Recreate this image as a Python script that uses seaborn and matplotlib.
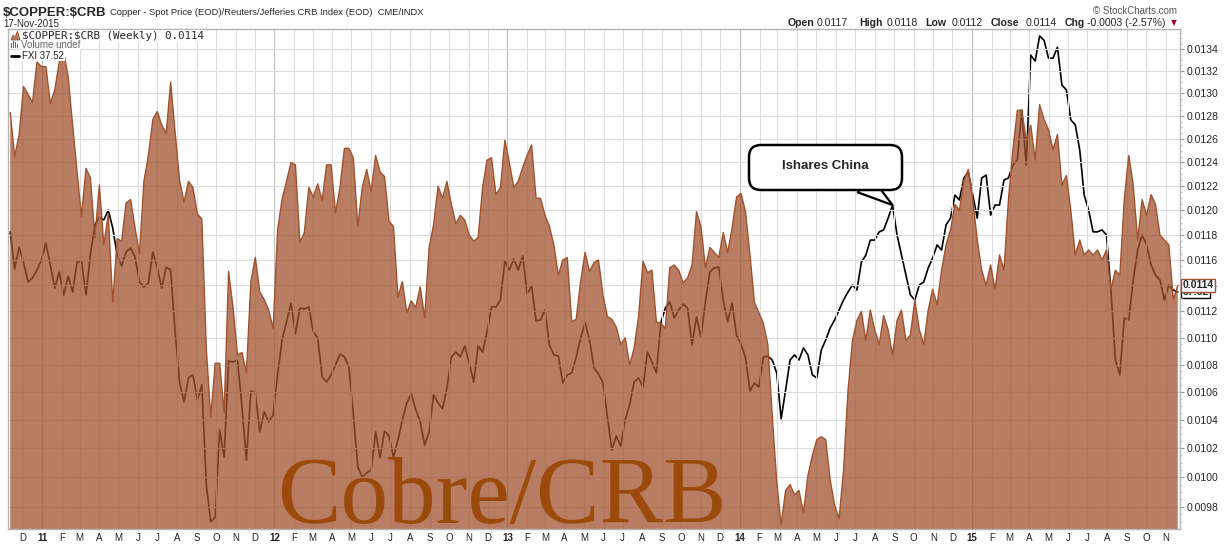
import matplotlib
matplotlib.use("Agg")
import matplotlib.pyplot as plt
import matplotlib.ticker as mticker
import matplotlib.transforms as mtransforms
import matplotlib.dates as mdates
from matplotlib.patches import Polygon, FancyBboxPatch, Rectangle
from matplotlib.lines import Line2D
import numpy as np
import pandas as pd
import seaborn as sns

sns.set_style("white")
plt.rcParams["font.family"] = ["Liberation Sans", "DejaVu Sans"]

# ---------------- data (weekly) ----------------
FIRST_WEEK = "2010-11-12"
COPPER_CRB = [
    0.01283, 0.01245, 0.01264, 0.01306, 0.01299, 0.01292, 0.01328, 0.01324, 0.01324, 0.01291,
    0.01303, 0.01328, 0.01337, 0.01315, 0.01272, 0.01232, 0.01195, 0.01235, 0.01227, 0.01178,
    0.01221, 0.01172, 0.01197, 0.01127, 0.01177, 0.01175, 0.01206, 0.01209, 0.01186, 0.01165,
    0.01224, 0.01246, 0.01277, 0.01284, 0.01272, 0.01265, 0.01310, 0.01266, 0.01225, 0.01207,
    0.01224, 0.01219, 0.01197, 0.01193, 0.01092, 0.01042, 0.01081, 0.01081, 0.01045, 0.01151,
    0.01123, 0.01087, 0.01089, 0.01074, 0.01143, 0.01162, 0.01135, 0.01129, 0.01121, 0.01107,
    0.01184, 0.01209, 0.01224, 0.01240, 0.01238, 0.01174, 0.01182, 0.01219, 0.01211, 0.01222,
    0.01208, 0.01238, 0.01238, 0.01198, 0.01219, 0.01252, 0.01252, 0.01244, 0.01187, 0.01219,
    0.01234, 0.01216, 0.01246, 0.01232, 0.01228, 0.01191, 0.01187, 0.01131, 0.01143, 0.01119,
    0.01128, 0.01123, 0.01139, 0.01115, 0.01170, 0.01188, 0.01220, 0.01210, 0.01224, 0.01205,
    0.01189, 0.01196, 0.01192, 0.01180, 0.01175, 0.01178, 0.01219, 0.01242, 0.01244, 0.01213,
    0.01219, 0.01259, 0.01240, 0.01219, 0.01224, 0.01236, 0.01246, 0.01255, 0.01210, 0.01210,
    0.01196, 0.01187, 0.01172, 0.01148, 0.01160, 0.01162, 0.01112, 0.01114, 0.01143, 0.01166,
    0.01151, 0.01158, 0.01160, 0.01133, 0.01116, 0.01114, 0.01108, 0.01095, 0.01100, 0.01080,
    0.01092, 0.01116, 0.01159, 0.01150, 0.01152, 0.01112, 0.01111, 0.01107, 0.01154, 0.01156,
    0.01152, 0.01142, 0.01146, 0.01156, 0.01199, 0.01187, 0.01154, 0.01170, 0.01166, 0.01162,
    0.01182, 0.01166, 0.01186, 0.01211, 0.01214, 0.01199, 0.01164, 0.01127, 0.01119, 0.01111,
    0.01095, 0.01043, 0.00997, 0.00968, 0.00991, 0.00995, 0.00988, 0.00991, 0.00976, 0.01001,
    0.01015, 0.01026, 0.01028, 0.01026, 0.00998, 0.00981, 0.00972, 0.01005, 0.01061, 0.01098,
    0.01113, 0.01120, 0.01098, 0.01121, 0.01106, 0.01095, 0.01117, 0.01106, 0.01087, 0.01113,
    0.01121, 0.01098, 0.01102, 0.01129, 0.01106, 0.01095, 0.01121, 0.01137, 0.01125, 0.01152,
    0.01172, 0.01184, 0.01205, 0.01200, 0.01225, 0.01234, 0.01209, 0.01176, 0.01152, 0.01140,
    0.01156, 0.01137, 0.01164, 0.01152, 0.01209, 0.01251, 0.01285, 0.01285, 0.01259, 0.01272,
    0.01242, 0.01290, 0.01277, 0.01268, 0.01251, 0.01264, 0.01221, 0.01229, 0.01200, 0.01164,
    0.01176, 0.01164, 0.01168, 0.01164, 0.01168, 0.01160, 0.01168, 0.01137, 0.01152, 0.01148,
    0.01209, 0.01246, 0.01221, 0.01176, 0.01209, 0.01196, 0.01213, 0.01205, 0.01180, 0.01176,
    0.01172, 0.01129, 0.01140,
]
FXI = [
    40.43, 38.61, 39.68, 38.90, 37.99, 38.18, 38.56, 39.04, 39.87, 38.80,
    37.70, 38.46, 37.38, 38.27, 37.52, 38.94, 38.99, 37.38, 39.33, 40.78,
    41.18, 41.03, 41.54, 40.63, 39.28, 38.75, 39.43, 39.63, 39.19, 37.99,
    37.75, 37.94, 39.43, 38.66, 37.70, 38.70, 38.56, 35.70, 33.55, 32.73,
    33.72, 33.85, 32.81, 33.43, 29.52, 28.19, 28.37, 31.61, 30.56, 34.44,
    34.40, 34.46, 32.53, 30.45, 33.18, 33.10, 31.53, 32.33, 31.93, 32.21,
    33.85, 35.35, 36.15, 37.01, 35.61, 36.78, 36.74, 36.83, 35.70, 35.44,
    33.76, 33.55, 33.85, 34.27, 34.74, 34.61, 34.19, 32.21, 30.19, 29.81,
    29.97, 30.08, 31.53, 30.53, 31.57, 31.38, 30.56, 31.22, 32.01, 32.69,
    33.06, 32.41, 31.93, 31.02, 31.53, 33.02, 32.69, 32.45, 33.30, 34.61,
    34.82, 34.61, 35.09, 34.36, 33.55, 35.09, 34.82, 35.70, 36.83, 36.83,
    37.15, 38.99, 38.56, 39.09, 38.56, 39.24, 37.43, 37.80, 36.20, 36.24,
    36.69, 35.13, 34.70, 34.65, 33.51, 33.85, 33.93, 34.61, 35.44, 36.11,
    35.35, 34.14, 33.89, 33.51, 32.13, 30.83, 31.38, 30.98, 32.01, 32.61,
    33.55, 33.72, 33.34, 34.82, 34.40, 33.93, 36.11, 36.78, 37.06, 36.33,
    36.69, 36.96, 36.78, 35.13, 36.38, 35.48, 37.06, 38.46, 38.66, 38.70,
    37.15, 36.15, 37.01, 35.53, 35.18, 34.57, 33.18, 33.51, 33.34, 34.61,
    34.65, 34.48, 33.93, 32.05, 33.22, 34.48, 34.70, 34.48, 35.00, 34.70,
    33.85, 33.72, 34.91, 35.35, 35.88, 36.24, 36.69, 37.15, 37.52, 37.85,
    37.61, 38.94, 39.28, 40.02, 40.02, 40.43, 40.53, 41.13, 41.80, 40.28,
    39.28, 38.32, 37.38, 37.15, 37.85, 37.99, 38.66, 39.14, 39.78, 39.53,
    40.78, 41.13, 42.32, 42.06, 43.23, 43.55, 42.32, 41.13, 43.23, 43.39,
    41.28, 41.80, 41.80, 43.12, 43.23, 43.93, 44.21, 47.04, 43.93, 50.36,
    49.99, 51.57, 51.29, 50.17, 50.17, 50.86, 48.52, 48.23, 46.46, 46.18,
    44.76, 42.32, 41.54, 40.43, 40.43, 40.53, 40.28, 37.61, 34.48, 33.85,
    36.33, 36.24, 38.08, 39.53, 40.28, 39.78, 38.80, 38.32, 38.08, 37.15,
    37.85, 37.61, 37.52,
]
Y_TICKS = [0.0098, 0.0100, 0.0102, 0.0104, 0.0106, 0.0108, 0.0110, 0.0112, 0.0114,
           0.0116, 0.0118, 0.0120, 0.0122, 0.0124, 0.0126, 0.0128, 0.0130, 0.0132, 0.0134]
Y_TICK_LABELS = ["0.0098", "0.0100", "0.0102", "0.0104", "0.0106", "0.0108", "0.0110",
                 "0.0112", "0.0114", "0.0116", "0.0118", "0.0120", "0.0122", "0.0124",
                 "0.0126", "0.0128", "0.0130", "0.0132", "0.0134"]
MONTH_INITIALS = ["J", "F", "M", "A", "M", "J", "J", "A", "S", "O", "N", "D"]
OHLC = [("Open", "0.0117"), ("High", "0.0118"), ("Low", "0.0112"),
        ("Close", "0.0114"), ("Chg", "-0.0003 (-2.57%)")]
CALLOUT_WEEK = 198

dates = pd.date_range(FIRST_WEEK, periods=len(COPPER_CRB), freq="7D")
df = pd.DataFrame({"date": dates, "ratio": COPPER_CRB, "fxi": FXI})

# ---------------- figure ----------------
W, H, DPI = 1224, 545, 100
fig = plt.figure(figsize=(W / DPI, H / DPI), dpi=DPI)
fig.patch.set_facecolor("white")
L, R, T, B = 8, 1180, 29, 529
ax = fig.add_axes([L / W, 1 - B / H, (R - L) / W, (B - T) / H])
ax2 = ax.twinx()
ax.set_zorder(ax2.get_zorder() + 1)
ax.patch.set_visible(False)

ax.set_yscale("log")
ax2.set_yscale("log")

SIENNA = "#A0522D"
sns.lineplot(data=df, x="date", y="fxi", ax=ax2, color="black", lw=1.2)
ax.fill_between(df["date"], df["ratio"], 0.009, color=SIENNA, alpha=0.75, lw=0, zorder=2)
sns.lineplot(data=df, x="date", y="ratio", ax=ax, color=SIENNA, lw=1.0, zorder=3)

ax.set_xlim(pd.Timestamp("2010-11-08 12:00"), pd.Timestamp("2015-11-23 12:00"))
ax.set_ylim(0.009652, 0.013584)
ax2.set_ylim(27.95, 52.02)
for a in (ax, ax2):
    a.set_xlabel("")
    a.set_ylabel("")

# grid
months = pd.date_range("2010-12-01", "2015-11-01", freq="MS")
for m in months:
    ax.axvline(m, color="#bdbdbd" if m.month == 1 else "#dcdcdc", lw=0.8, zorder=1)
for t in Y_TICKS:
    ax.axhline(t, color="#dcdcdc", lw=0.8, zorder=1)

# x ticks
labels = [f"{m.year % 100:02d}" if m.month == 1 else MONTH_INITIALS[m.month - 1] for m in months]
ax.set_xticks(months)
ax.set_xticklabels(labels)
for lbl, m in zip(ax.get_xticklabels(), months):
    lbl.set_color("#222222")
    if m.month == 1:
        lbl.set_fontweight("bold")
        lbl.set_fontsize(8.5)
ax.xaxis.set_minor_locator(mticker.FixedLocator(mdates.date2num(dates)))
ax.xaxis.set_minor_formatter(mticker.NullFormatter())
ax.tick_params(axis="x", which="major", length=0, labelsize=7, pad=3)
ax.tick_params(axis="x", which="minor", length=2, color="#aaaaaa")

# y ticks (right)
ax.yaxis.set_major_locator(mticker.FixedLocator(Y_TICKS))
ax.yaxis.set_major_formatter(mticker.FixedFormatter(Y_TICK_LABELS))
ax.yaxis.set_minor_locator(mticker.MultipleLocator(0.00005))
ax.yaxis.set_minor_formatter(mticker.NullFormatter())
ax.tick_params(axis="y", which="both", left=False, labelleft=False, right=True, labelright=True)
ax.tick_params(axis="y", which="major", length=3, color="#999999", labelsize=7.5, pad=2)
ax.tick_params(axis="y", which="minor", length=1.5, color="#bbbbbb")
ax2.yaxis.set_major_locator(mticker.NullLocator())
ax2.yaxis.set_minor_locator(mticker.NullLocator())
ax2.tick_params(axis="y", which="both", right=False, labelright=False, left=False, labelleft=False)
for s in ax.spines.values():
    s.set_color("#b3b3b3")
    s.set_linewidth(1)
for s in ax2.spines.values():
    s.set_visible(False)

# last-value boxes on the right axis
tr1 = mtransforms.blended_transform_factory(ax.transAxes, ax.transData)
tr2 = mtransforms.blended_transform_factory(ax2.transAxes, ax2.transData)
ax2.text(1.002, FXI[-1], f"{FXI[-1]:.2f}", transform=tr2, fontsize=7.5, fontweight="bold",
         va="center", ha="left", clip_on=False,
         bbox=dict(boxstyle="square,pad=0.12", fc="white", ec="black", lw=1))
ax.text(1.002, COPPER_CRB[-1], f"{COPPER_CRB[-1]:.4f}", transform=tr1, fontsize=7.5,
        fontweight="bold", va="center", ha="left", clip_on=False, zorder=10,
        bbox=dict(boxstyle="square,pad=0.12", fc="white", ec=SIENNA, lw=1))

# ---------------- texts in pixel coordinates ----------------
IN = fig.dpi_scale_trans


def P(x, y):
    return (x / DPI, (H - y) / DPI)


def ftext(x, y, s, **kw):
    return fig.text(*P(x, y), s, transform=IN, **kw)


ftext(3, 15.5, r"\$COPPER:\$CRB", fontsize=9.5, fontweight="bold", va="baseline")
ftext(110, 15, "Copper - Spot Price (EOD)/Reuters/Jefferies CRB Index (EOD)  CME/INDX",
      fontsize=6.75, va="baseline")
ftext(3, 24, "17-Nov-2015", fontsize=7, va="center")
ftext(1177, 10.5, "\u00a9 StockCharts.com", fontsize=7, color="#555555", ha="right", va="center")

ohlc_x = [(788, 817), (859, 887), (925, 952), (991, 1026), (1065, 1087)]
for (lab, val), (xl, xv) in zip(OHLC, ohlc_x):
    ftext(xl, 26.5, lab, fontsize=7.6, fontweight="bold", va="baseline")
    ftext(xv, 26.5, val, fontsize=7.6, va="baseline")
ftext(1174, 23, "\u25bc", fontsize=5.5, color="#a0002a", ha="center", va="center",
      family="DejaVu Sans")

# legend
fig.add_artist(Polygon([P(11, 40), P(13, 35), P(15, 37.5), P(17.5, 31), P(20, 40)],
                       closed=True, transform=IN, fc="#B57C66", ec=SIENNA, lw=0.6, zorder=6))
for bx, bh in [(11, 5), (13, 7), (15, 6), (17, 4)]:
    fig.add_artist(Rectangle(P(bx, 48), 1.4 / DPI, bh / DPI, transform=IN,
                             fc="#666666", ec="none", zorder=6))
fig.add_artist(Line2D([11 / DPI, 19 / DPI], [(H - 55.5) / DPI] * 2, transform=IN,
                      color="black", lw=2, zorder=6))
ftext(22, 35.8, f"\\$COPPER:\\$CRB (Weekly) {COPPER_CRB[-1]:.4f}", fontsize=7.8,
      family="DejaVu Sans Mono", va="center", zorder=7,
      bbox=dict(fc="white", ec="none", pad=0.6))
ftext(21, 44.5, "Volume undef", fontsize=7, color="#666666", va="center", zorder=7,
      bbox=dict(fc="white", ec="none", pad=0.3))
ftext(22, 55.5, f"FXI {FXI[-1]:.2f}", fontsize=7, va="center", zorder=7,
      bbox=dict(fc="white", ec="none", pad=0.5))

# watermark
ftext(502, 523, "Cobre/CRB", family="Liberation Serif", fontsize=68.5, color="#9B4A0B",
      ha="center", va="baseline", zorder=4)

# callout
tip = (mdates.date2num(dates[CALLOUT_WEEK]), FXI[CALLOUT_WEEK])
ax.annotate("", xy=tip, xycoords=ax2.transData, xytext=P(864, 184), textcoords=IN,
            arrowprops=dict(arrowstyle="wedge,tail_width=1.5,shrink_factor=0.5",
                            fc="white", ec="black", lw=1.6, shrinkA=0, shrinkB=0),
            zorder=12)
fig.add_artist(FancyBboxPatch(P(749, 190), 153 / DPI, 45 / DPI,
                              boxstyle="round,pad=0,rounding_size=0.12", transform=IN,
                              fc="white", ec="black", lw=1.8, zorder=5))
ftext(825, 166, "Ishares China", fontsize=9.5, fontweight="bold", ha="center",
      va="center", zorder=6)

fig.savefig("out.png", dpi=DPI, facecolor="white")
